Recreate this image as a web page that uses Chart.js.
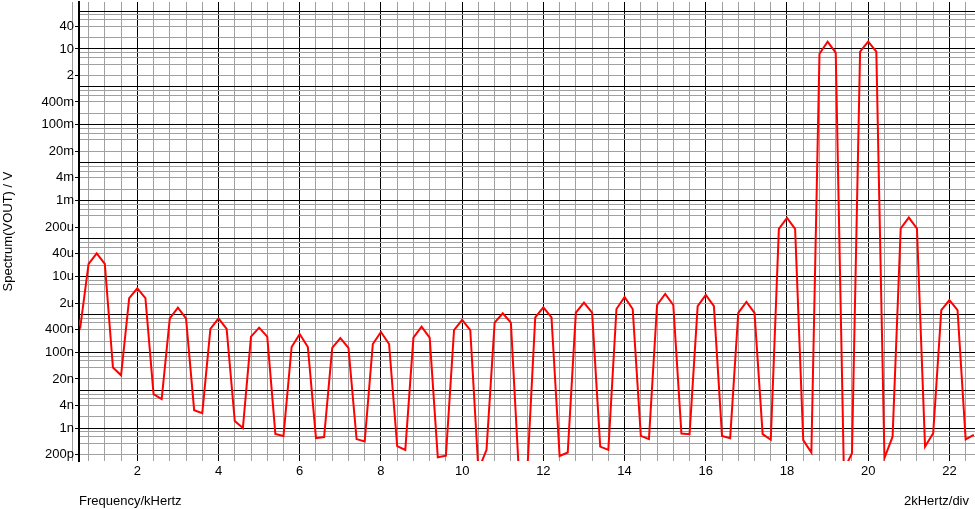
<!DOCTYPE html>
<html>
<head>
<meta charset="utf-8">
<script src="https://cdn.jsdelivr.net/npm/chart.js@4.4.1/dist/chart.umd.min.js"></script>
<style>
html,body{margin:0;padding:0;background:#fff;overflow:hidden}
canvas{display:block}
</style>
</head>
<body>
<canvas id="c" width="975" height="509"></canvas>
<script>
// ---- data ----
const freqKHz = [
  0.4, 0.6,
  0.8, 1.0, 1.2, 1.4, 1.6,
  1.8, 2.0, 2.2, 2.4, 2.6,
  2.8, 3.0, 3.2, 3.4, 3.6,
  3.8, 4.0, 4.2, 4.4, 4.6,
  4.8, 5.0, 5.2, 5.4, 5.6,
  5.8, 6.0, 6.2, 6.4, 6.6,
  6.8, 7.0, 7.2, 7.4, 7.6,
  7.8, 8.0, 8.2, 8.4, 8.6,
  8.8, 9.0, 9.2, 9.4, 9.6,
  9.8, 10.0, 10.2, 10.4, 10.6,
  10.8, 11.0, 11.2, 11.4, 11.6,
  11.8, 12.0, 12.2, 12.4, 12.6,
  12.8, 13.0, 13.2, 13.4, 13.6,
  13.8, 14.0, 14.2, 14.4, 14.6,
  14.8, 15.0, 15.2, 15.4, 15.6,
  15.8, 16.0, 16.2, 16.4, 16.6,
  16.8, 17.0, 17.2, 17.4, 17.6,
  17.8, 18.0, 18.2, 18.4, 18.6,
  18.8, 19.0, 19.2, 19.4, 19.6,
  19.8, 20.0, 20.2, 20.4, 20.6,
  20.8, 21.0, 21.2, 21.4, 21.6,
  21.8, 22.0, 22.2, 22.4, 22.6
];
const spectrumV = [
  2.5e-6, 5e-7,
  2.15e-5, 4.1e-5, 2.15e-5, 4e-8, 2.5e-8,
  2.7e-6, 4.9e-6, 2.7e-6, 8e-9, 5.9e-9,
  7.9e-7, 1.51e-6, 7.9e-7, 3.0e-9, 2.5e-9,
  4.15e-7, 7.9e-7, 4.15e-7, 1.56e-9, 1.02e-9,
  2.6e-7, 4.5e-7, 2.6e-7, 7.1e-10, 6.3e-10,
  1.39e-7, 3.06e-7, 1.39e-7, 5.5e-10, 5.9e-10,
  1.32e-7, 2.4e-7, 1.32e-7, 5.2e-10, 4.5e-10,
  1.67e-7, 3.47e-7, 1.67e-7, 3.4e-10, 2.7e-10,
  2.45e-7, 4.8e-7, 2.45e-7, 1.72e-10, 1.9e-10,
  3.9e-7, 7.2e-7, 3.9e-7, 8e-11, 2.7e-10,
  6.1e-7, 1.08e-6, 6.1e-7, 6e-11, 6e-11,
  8.4e-7, 1.55e-6, 8.4e-7, 1.86e-10, 2.3e-10,
  1.12e-6, 2.05e-6, 1.12e-6, 3.3e-10, 2.7e-10,
  1.4e-6, 2.9e-6, 1.4e-6, 6.3e-10, 5.2e-10,
  1.78e-6, 3.47e-6, 1.78e-6, 7.3e-10, 7.0e-10,
  1.66e-6, 3.27e-6, 1.66e-6, 6.3e-10, 5.5e-10,
  1.1e-6, 2.14e-6, 1.1e-6, 7e-10, 5e-10,
  1.8e-4, 3.5e-4, 1.8e-4, 4.9e-10, 2.3e-10,
  7.5, 15.6, 8.0, 8e-11, 2.2e-10,
  8.5, 15.6, 8.5, 1.65e-10, 6e-10,
  1.85e-4, 3.6e-4, 1.85e-4, 3.3e-10, 7.4e-10,
  1.3e-6, 2.4e-6, 1.3e-6, 5.1e-10, 6.7e-10
];
const xLabelTicks = [2, 4, 6, 8, 10, 12, 14, 16, 18, 20, 22];
const yLabelValues = [40, 10, 2, 0.4, 0.1, 0.02, 0.004, 1e-3, 2e-4, 4e-5, 1e-5, 2e-6, 4e-7, 1e-7, 2e-8, 4e-9, 1e-9, 2e-10];
const yLabelTexts  = ['40','10','2','400m','100m','20m','4m','1m','200u','40u','10u','2u','400n','100n','20n','4n','1n','200p'];
const xTitle = 'Frequency/kHertz';
const xDivNote = '2kHertz/div';
const yTitle = 'Spectrum(VOUT) / V';

// axis ranges
const X_MIN = 0.564, X_MAX = 22.63;
const Y_MIN = 1.375e-10, Y_MAX = 173;

// grid positions (minor every 0.4 kHz; log grid at 1,2,4,6,8 x 10^n)
const xGridValues = [];
for (let k = 1; k * 0.4 <= X_MAX; k++) xGridValues.push(Math.round(k * 4) / 10);
const yGridValues = [];
for (let e = -10; e <= 2; e++) {
  for (const m of [1, 2, 4, 6, 8]) {
    const v = m * Math.pow(10, e);
    if (v >= Y_MIN && v <= Y_MAX) yGridValues.push(v);
  }
}

const isDecade = v => Math.abs(Math.log10(v) - Math.round(Math.log10(v))) < 1e-6;
const yLabelFor = v => {
  for (let i = 0; i < yLabelValues.length; i++) {
    if (Math.abs(Math.log10(v / yLabelValues[i])) < 1e-6) return yLabelTexts[i];
  }
  return '';
};
const isXMajor = v => xLabelTicks.some(t => Math.abs(t - v) < 1e-6);

const BLACK = '#000000';
const GRAY = '#a0a0a0';
const FONT = '"Liberation Sans", Arial, sans-serif';

const points = freqKHz.map((f, i) => ({ x: f, y: spectrumV[i] }));

const divNotePlugin = {
  id: 'divNote',
  afterDraw(chart) {
    const ctx = chart.ctx;
    ctx.save();
    ctx.font = '13px ' + FONT;
    ctx.fillStyle = BLACK;
    ctx.textAlign = 'right';
    ctx.textBaseline = 'middle';
    ctx.fillText(xDivNote, 969, chart.scales.x.bottom - 7.8);
    ctx.restore();
  }
};

new Chart(document.getElementById('c'), {
  type: 'line',
  data: {
    datasets: [{
      data: points,
      borderColor: '#ff0000',
      borderWidth: 2,
      pointRadius: 0,
      tension: 0,
      fill: false,
      clip: 0
    }]
  },
  options: {
    responsive: false,
    animation: false,
    devicePixelRatio: 1,
    layout: { padding: { top: 2, right: 0, left: 0, bottom: 0 } },
    plugins: { legend: { display: false }, tooltip: { enabled: false } },
    scales: {
      x: {
        type: 'linear',
        min: X_MIN,
        max: X_MAX,
        bounds: 'data',
        afterFit: s => { s.height = 48; s.paddingLeft = 0; s.paddingRight = 0; },
        afterBuildTicks: s => { s.ticks = xGridValues.map(v => ({ value: v })); },
        border: { display: false },
        grid: {
          color: c => (c.tick && isXMajor(c.tick.value)) ? BLACK : GRAY,
          lineWidth: 1,
          drawTicks: false
        },
        ticks: {
          autoSkip: false,
          maxRotation: 0,
          padding: 3,
          color: BLACK,
          font: { family: FONT, size: 13 },
          callback: v => isXMajor(v) ? String(Math.round(v)) : ''
        },
        title: {
          display: true,
          text: xTitle,
          align: 'start',
          color: BLACK,
          font: { family: FONT, size: 13 },
          padding: { top: 0, bottom: 0 }
        }
      },
      y: {
        type: 'logarithmic',
        min: Y_MIN,
        max: Y_MAX,
        bounds: 'data',
        afterFit: s => { s.width = 79; s.paddingTop = 0; s.paddingBottom = 0; },
        afterBuildTicks: s => { s.ticks = yGridValues.map(v => ({ value: v })); },
        border: { display: true, color: BLACK, width: 2 },
        grid: {
          color: c => (c.tick && isDecade(c.tick.value)) ? BLACK : GRAY,
          lineWidth: 1,
          drawTicks: true,
          tickLength: 4,
          tickColor: c => (c.tick && yLabelFor(c.tick.value) !== '') ? BLACK : 'rgba(0,0,0,0)'
        },
        ticks: {
          autoSkip: false,
          padding: 1,
          color: BLACK,
          font: { family: FONT, size: 13 },
          callback: v => yLabelFor(v)
        },
        title: {
          display: true,
          text: yTitle,
          color: BLACK,
          font: { family: FONT, size: 13 },
          padding: { top: 1, bottom: 0 }
        }
      }
    }
  },
  plugins: [divNotePlugin]
});
</script>
</body>
</html>
